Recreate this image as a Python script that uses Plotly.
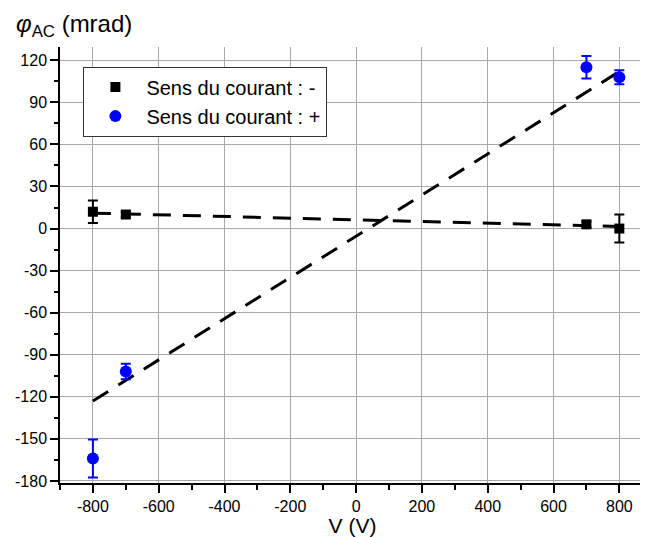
import plotly.graph_objects as go

# data
V = [-800, -700, 700, 800]
phi_minus = [12, 10, 3, 0]
err_minus = [8, 2, 2, 10]
phi_plus = [-164, -102, 115, 108]
err_plus = [13.5, 5.5, 8, 5]
fit_x = [-800, 800]
fit_minus = [11, 1.5]
fit_plus = [-123, 112]
x_ticks = [-800, -600, -400, -200, 0, 200, 400, 600, 800]
y_ticks = [120, 90, 60, 30, 0, -30, -60, -90, -120, -150, -180]

FONT = "Liberation Sans, Arial, sans-serif"

fig = go.Figure()
fig.add_trace(go.Scatter(x=fit_x, y=fit_plus, mode="lines",
                         line=dict(color="black", width=3, dash="18px,12px"),
                         showlegend=False, hoverinfo="skip"))
fig.add_trace(go.Scatter(x=fit_x, y=fit_minus, mode="lines",
                         line=dict(color="black", width=3, dash="18px,12px"),
                         showlegend=False, hoverinfo="skip"))
fig.add_trace(go.Scatter(x=V, y=phi_minus, mode="markers", name="Sens du courant : -",
                         marker=dict(symbol="square", color="black", size=10),
                         error_y=dict(type="data", array=err_minus, color="black",
                                      thickness=2, width=5)))
fig.add_trace(go.Scatter(x=V, y=phi_plus, mode="markers", name="Sens du courant : +",
                         marker=dict(symbol="circle", color="#0000ff", size=12),
                         error_y=dict(type="data", array=err_plus, color="#0000ff",
                                      thickness=2, width=5)))

# figure is placed at (8, 8) in the page by the default body margin
fig.update_layout(
    width=640, height=529,
    margin=dict(l=52, r=3, t=39, b=54, autoexpand=False),
    paper_bgcolor="white", plot_bgcolor="white",
    font=dict(family=FONT, size=16, color="black"),
    legend=dict(x=0.04, y=0.955, xanchor="left", yanchor="top",
                bgcolor="white", bordercolor="#333333", borderwidth=1,
                font=dict(size=20, family=FONT), itemwidth=52,
                tracegroupgap=0),
    xaxis=dict(range=[-900, 878], tickvals=x_ticks, automargin=False,
               ticktext=[str(v) for v in x_ticks],
               showgrid=True, gridcolor="#a8a8a8", gridwidth=1,
               zeroline=False, showline=True, linecolor="black", linewidth=1.5,
               ticks="outside", ticklen=8, tickwidth=1.5, tickcolor="black",
               minor=dict(dtick=100, tick0=0, ticks="outside", ticklen=5,
                          tickwidth=1.5, tickcolor="black", showgrid=False),
               tickfont=dict(size=16),
               title=dict(text="V (V)", font=dict(size=21), standoff=0)),
    yaxis=dict(range=[-181.5, 129.5], tickvals=y_ticks, automargin=False,
               ticktext=[str(v) for v in y_ticks],
               showgrid=True, gridcolor="#a8a8a8", gridwidth=1,
               zeroline=False, showline=True, linecolor="black", linewidth=1.5,
               ticks="outside", ticklen=8, tickwidth=1.5, tickcolor="black",
               minor=dict(dtick=15, tick0=0, ticks="outside", ticklen=4,
                          tickwidth=1.5, tickcolor="black", showgrid=False),
               tickfont=dict(size=16)),
)

fig.add_annotation(text="<i>φ</i><sub>AC</sub> (mrad)", xref="paper", yref="paper",
                   x=-0.078, y=1.0, yshift=4, xanchor="left", yanchor="bottom",
                   showarrow=False, font=dict(size=24, family=FONT))

fig.write_html("out.html")
